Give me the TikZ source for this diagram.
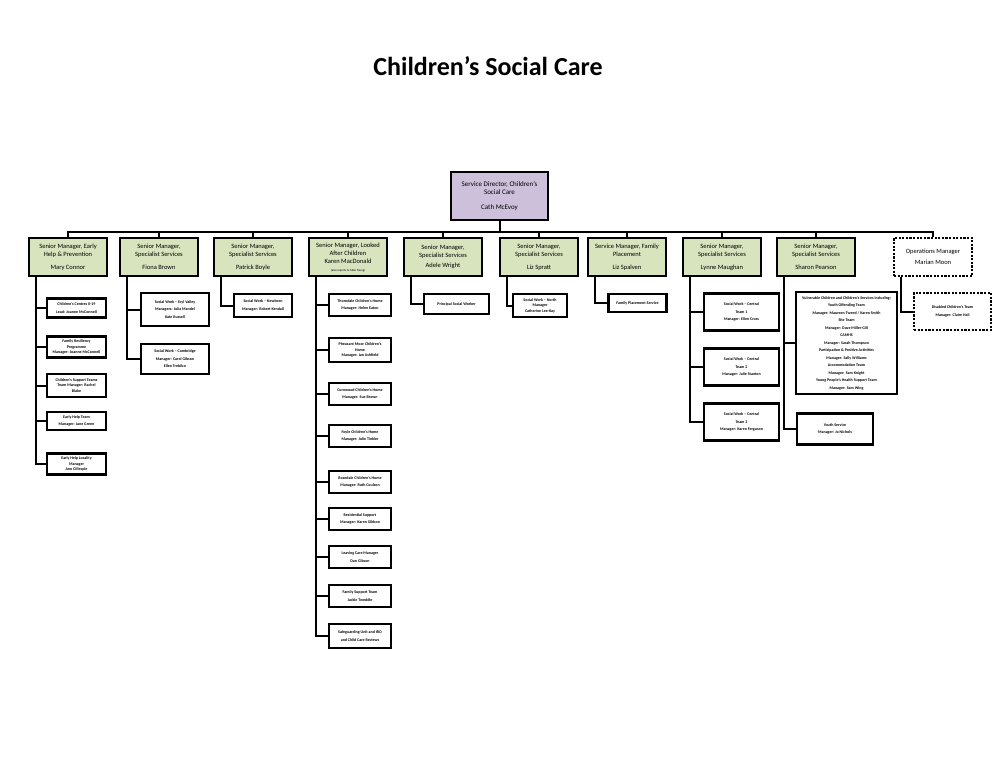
\documentclass[tikz,border=0pt]{standalone}
\usepackage{fontspec}
\setmainfont{Carlito}
\usepackage{xcolor}
\definecolor{dirlilac}{RGB}{204,192,218}
\definecolor{mgrgreen}{RGB}{215,228,189}
\usepackage{tikz}
\usetikzlibrary{positioning,calc}

\begin{document}
\begin{tikzpicture}[x=1pt, y=-1pt,
    director/.style={rectangle, draw=black, line width=2.4pt, fill=dirlilac,
                     minimum width=97pt, minimum height=48pt, inner sep=1pt,
                     align=center, font=\fontsize{7}{8.5}\selectfont},
    manager/.style={rectangle, draw=black, line width=2.4pt, fill=mgrgreen,
                    minimum width=78pt, minimum height=38pt, inner sep=1pt,
                    align=center, font=\fontsize{6.5}{8}\selectfont},
    opsmgr/.style={manager, fill=white, dash pattern=on 2.2pt off 1.4pt},
    unit/.style={rectangle, draw=black, line width=2.4pt, fill=white, inner sep=1pt,
                 align=center, font=\fontsize{4}{7.5}\selectfont\bfseries},
    link/.style={line width=2pt, black},
  ]
    \useasboundingbox (0,0) rectangle (1008,756);
    \node[font=\fontsize{26}{30}\selectfont\bfseries] (title) at (488,66) {Children’s Social Care};

    % director and bus
    \node[director] (dir) at (499.5,196) {%
      Service Director, Children’s\\
      Social Care\\[6pt]
      Cath McEvoy};
    \coordinate (bus) at (0,232);

    % senior managers
    \node[manager] (m1) at (68,257) {Senior Manager, Early\\Help \& Prevention\\[5pt]Mary Connor};
    \node[manager] (m2) at (159,257) {Senior Manager,\\Specialist Services\\[5pt]Fiona Brown};
    \node[manager] (m3) at (253,257) {Senior Manager,\\Specialist Services\\[5pt]Patrick Boyle};
    \node[manager] (m4) at (348,257) {%
      Senior Manager, Looked\\After Children\\Karen MacDonald\\
      {\fontsize{3}{3.5}\selectfont (also reports to Mike Young)}};
    \node[manager] (m5) at (443,257) {Senior Manager,\\Specialist Services\\[2pt]Adele Wright};
    \node[manager] (m6) at (539,257) {Senior Manager,\\Specialist Services\\[5pt]Liz Spratt};
    \node[manager] (m7) at (627,257) {Service Manager, Family\\Placement\\[5pt]Liz Spalven};
    \node[manager] (m8) at (722,257) {Senior Manager,\\Specialist Services\\[5pt]Lynne Maughan};
    \node[manager] (m9) at (816,257) {Senior Manager,\\Specialist Services\\[5pt]Sharon Pearson};
    \node[opsmgr] (m10) at (933,257) {Operations Manager\\[3pt]Marian Moon};

    % early help
    \node[unit, minimum width=59pt, minimum height=19pt] (a1) at (76.5,308) {Children’s Centres 0-19\\Lead: Joanne McConnell};
    \node[unit, minimum width=59pt, minimum height=21pt] (a2) at (76.5,347) {Family Resiliency\\[-2pt]Programme\\[-2pt]Manager: Joanne McConnell};
    \node[unit, minimum width=59pt, minimum height=23pt] (a3) at (76.5,385.5) {Children’s Support Teams\\[-2pt]Team Manager: Rachel\\[-2pt]Blake};
    \node[unit, minimum width=59pt, minimum height=18pt] (a4) at (76.5,421) {Early Help Team\\Manager: Jane Green};
    \node[unit, minimum width=59pt, minimum height=21pt] (a5) at (76.5,464) {Early Help Locality\\[-2pt]Manager\\[-2pt]Ann Gillespie};

    % specialist services
    \node[unit, minimum width=68pt, minimum height=33pt] (b1) at (175,309.5) {Social Work – Eryl Valley\\Managers: Julia Mandel\\Kate Russell};
    \node[unit, minimum width=68pt, minimum height=30pt] (b2) at (175,359) {Social Work – Cambridge\\Manager: Carol Gibson\\Ellen Trebilco};
    \node[unit, minimum width=58pt, minimum height=23pt] (p1) at (263,305.5) {Social Work – Newborn\\Manager: Robert Kendall};

    % looked after children
    \node[unit, minimum width=62pt, minimum height=22pt] (k1) at (360,305) {Thorndale Children’s Home\\Manager: Helen Eaton};
    \node[unit, minimum width=62pt, minimum height=24pt] (k2) at (360,350) {Pheasant Moor Children’s\\[-2pt]Home\\[-2pt]Manager: Ian Ashfield};
    \node[unit, minimum width=62pt, minimum height=22pt] (k3) at (360,394) {Cornwood Children’s Home\\Manager: Sue Brown};
    \node[unit, minimum width=62pt, minimum height=22pt] (k4) at (360,436) {Foyle Children’s Home\\Manager: Julie Tinkler};
    \node[unit, minimum width=62pt, minimum height=22pt] (k5) at (360,482) {Rosedale Children’s Home\\Manager: Ruth Coulson};
    \node[unit, minimum width=62pt, minimum height=22pt] (k6) at (360,519) {Residential Support\\Manager: Karen Gibbon};
    \node[unit, minimum width=62pt, minimum height=22pt] (k7) at (360,557) {Leaving Care Manager\\Dan Gibson};
    \node[unit, minimum width=62pt, minimum height=22pt] (k8) at (360,596) {Family Support Team\\Jackie Tweddle};
    \node[unit, minimum width=62pt, minimum height=24pt] (k9) at (360,636) {Safeguarding Unit and IRO\\and Child Care Reviews};

    \node[unit, minimum width=65pt, minimum height=20pt] (w1) at (456.5,304) {Principal Social Worker};
    \node[unit, minimum width=54pt, minimum height=23pt] (s1) at (540,305.5) {Social Work – North\\[-2pt]Manager\\[-2pt]Catherine Lee-Kay};
    \node[unit, minimum width=58pt, minimum height=18pt] (f1) at (637.5,303) {Family Placement Service};

    \node[unit, minimum width=75pt, minimum height=37pt] (l1) at (741.5,312) {Social Work – Central\\Team 1\\Manager: Ellen Cross};
    \node[unit, minimum width=75pt, minimum height=37pt] (l2) at (741.5,367) {Social Work – Central\\Team 2\\Manager: Julie Stanton};
    \node[unit, minimum width=75pt, minimum height=37pt] (l3) at (741.5,422) {Social Work – Central\\Team 3\\Manager: Karen Ferguson};

    \node[unit, minimum width=101pt, minimum height=102pt] (h1) at (846.5,343) {%
      Vulnerable Children and Children’s Services including:\\
      Youth Offending Team\\
      Manager: Maureen Tweed / Karen Smith\\
      Site Team\\
      Manager: Dave Miller-Gill\\
      CAMHS\\
      Manager: Sarah Thompson\\
      Participation \& Positive Activities\\
      Manager: Sally Williams\\
      Accommodation Team\\
      Manager: Sam Knight\\
      Young People’s Health Support Team\\
      Manager: Sam Wing};
    \node[unit, minimum width=76pt, minimum height=31pt] (h2) at (835,429) {Youth Service\\Manager: Jo Nichols};

    \node[unit, dash pattern=on 2.2pt off 1.4pt, minimum width=77pt, minimum height=37pt] (o1) at (952.5,311.5) {Disabled Children’s Team\\Manager: Claire Hall};

    % connectors
    \foreach \m in {m1,m2,m3,m4,m5,m6,m7,m8,m9,m10}
      \draw[link] (dir.south) -- (bus -| dir.south) -| (\m.north);
    \foreach \m/\c in {m1/a1,m1/a2,m1/a3,m1/a4,m1/a5,m2/b1,m2/b2,m3/p1,
                       m4/k1,m4/k2,m4/k3,m4/k4,m4/k5,m4/k6,m4/k7,m4/k8,m4/k9,
                       m5/w1,m6/s1,m7/f1,m8/l1,m8/l2,m8/l3,m9/h1,m9/h2,m10/o1}
      \draw[link] ($(\m.south west)+(8,0)$) |- (\c.west);
  \end{tikzpicture}
\end{document}
